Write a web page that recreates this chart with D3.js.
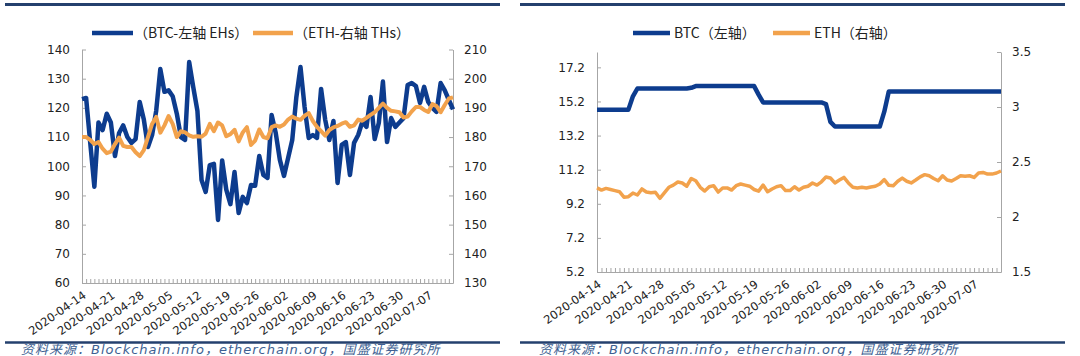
<!DOCTYPE html>
<html><head><meta charset="utf-8">
<script src="https://cdn.jsdelivr.net/npm/d3@7"></script>
<style>body{margin:0;background:#fff} svg{display:block}</style>
</head><body>
<svg id="c" width="1080" height="356"></svg>
<script>
const startDate = new Date(2020,3,14), endDate = new Date(2020,6,14);
const dates = d3.timeDay.range(startDate, endDate); // 2020-04-14 .. 2020-07-13
const tickLabels = ["2020-04-14","2020-04-21","2020-04-28","2020-05-05","2020-05-12","2020-05-19","2020-05-26","2020-06-02","2020-06-09","2020-06-16","2020-06-23","2020-06-30","2020-07-07"];

// Left panel: hash rate
const btcHash = [123,123.4,108,93,115,112.4,118,115,103.5,111.4,
 114,110,108,109.3,122,116,106.6,110.7,119,133.3,
 125.5,126,124,118,110,109,135.7,127,119,95.3,
 91.2,100.4,100.8,81.6,102,92,87,98,84,89.5,
 87.4,93.6,93.3,103.5,97,96,117.6,111.4,102.2,96.7,
 102.8,109,123.7,134,120.3,109.7,110.7,109.7,126.5,115.9,
 109,115.5,94.3,107.3,108.3,97,108,110.7,115.2,113.5,
 123.7,109.3,114.8,129,108.3,116.5,113.5,115,116.5,127.8,
 128.5,127.5,121.7,127.2,122,120,118.6,128.5,126,122.7,
 119.5];
const ethHash = [180,180,179,177.6,178.3,176,174.5,175,177.6,179.8,
 177,176.6,176.6,174.8,173.5,175.5,180,184.5,186.9,181.5,
 184,187.2,184.5,180,182,181.6,180.6,180.1,180.3,180.1,
 181.2,184.5,182,185,184,180.3,181,182.5,178.5,181.6,
 183.4,177.3,178.8,182.6,180,179.6,183.4,184,183.5,184.3,
 186,187,186.3,185.9,187.3,188.2,185.5,183.5,182,180.5,
 182.4,183.3,183.8,184.6,185.1,183.5,184,186,185.6,186.6,
 187.6,188.5,190,191.5,190,189,188.8,188.5,186.7,187,
 188.8,190.3,190.3,189.3,188.6,191.3,190.6,188.5,191,193.2,
 193.6];
const hashLeftTicks = [60,70,80,90,100,110,120,130,140];
const hashRightTicks = [130,140,150,160,170,180,190,200,210];
const hashLegend = ["（BTC-左轴 EHs）","（ETH-右轴 THs）"];

// Right panel: difficulty
const btcDiff = [14.72,14.72,14.72,14.72,14.72,14.72,14.72,14.72,15.5,
 15.96,15.96,15.96,15.96,15.96,15.96,15.96,15.96,15.96,15.96,15.96,15.96,
 16.0,
 16.1,16.1,16.1,16.1,16.1,16.1,16.1,16.1,16.1,16.1,16.1,16.1,16.1,16.1,
 15.6,
 15.14,15.14,15.14,15.14,15.14,15.14,15.14,15.14,15.14,15.14,15.14,15.14,15.14,15.14,
 15.05,14.0,
 13.73,13.73,13.73,13.73,13.73,13.73,13.73,13.73,13.73,13.73,13.73,
 14.6,
 15.78,15.78,15.78,15.78,15.78,15.78,15.78,15.78,15.78,15.78,15.78,15.78,15.78,
 15.78,15.78,15.78,15.78,15.78,15.78,15.78,15.78,15.78,15.78,15.78,15.78,15.78];
const ethDiff = [2.264,2.245,2.26,2.25,2.24,2.23,2.18,2.185,2.218,2.20,
 2.255,2.227,2.22,2.225,2.17,2.22,2.27,2.29,2.318,2.309,
 2.28,2.35,2.33,2.27,2.236,2.275,2.285,2.227,2.264,2.264,
 2.245,2.285,2.30,2.29,2.28,2.25,2.235,2.29,2.23,2.255,
 2.275,2.285,2.24,2.24,2.275,2.245,2.27,2.28,2.309,2.29,
 2.32,2.364,2.355,2.31,2.336,2.36,2.31,2.27,2.264,2.27,
 2.264,2.273,2.28,2.30,2.34,2.288,2.285,2.325,2.354,2.325,
 2.31,2.336,2.365,2.385,2.375,2.35,2.33,2.375,2.336,2.327,
 2.35,2.375,2.37,2.375,2.36,2.40,2.405,2.39,2.39,2.40,
 2.418];
const diffLeftTicks = [5.2,7.2,9.2,11.2,13.2,15.2,17.2];
const diffRightTicks = [1.5,2,2.5,3,3.5];
const diffLegend = ["BTC（左轴）","ETH（右轴）"];

const footer = "资料来源：Blockchain.info，etherchain.org，国盛证券研究所";

const BLUE = "#0d3c8e", ORANGE = "#f2a24c", AXIS = "#a6a6a6", RULE = "#24406e";
const svg = d3.select("#c");
const parse = d3.timeParse("%Y-%m-%d");

function panel(o) {
  const g = svg.append("g");
  // rules
  g.append("line").attr("x1", o.ruleX0).attr("x2", o.ruleX1).attr("y1", 4.5).attr("y2", 4.5)
    .attr("stroke", RULE).attr("stroke-width", 3);
  g.append("line").attr("x1", o.ruleX0).attr("x2", o.ruleX1).attr("y1", 342.5).attr("y2", 342.5)
    .attr("stroke", RULE).attr("stroke-width", 2.5);
  g.append("text").attr("x", o.footX).attr("y", 353.5).attr("font-family", "DejaVu Sans, Noto Sans CJK SC")
    .attr("font-size", 13).attr("font-style", "italic").attr("letter-spacing", 1)
    .attr("fill", "#3d5f92").text(footer);

  const x = d3.scaleTime().domain([dates[0], dates[dates.length-1]]).range([o.x0, o.x1]);
  const yL = d3.scaleLinear().domain(o.yLdom).range([o.y1, o.y0]);
  const yR = d3.scaleLinear().domain(o.yRdom).range([o.y1, o.y0]);

  const fmtL = o.fmtL || (d => d), fmtR = o.fmtR || (d => d);
  const ax = (sel) => {
    sel.selectAll("path.domain").attr("stroke", AXIS);
    sel.selectAll(".tick line").attr("stroke", AXIS);
    sel.selectAll("text").attr("font-family", "DejaVu Sans").attr("font-size", 12).attr("fill", "#222");
  };
  g.append("g").attr("transform", `translate(${o.x0},0)`)
    .call(d3.axisLeft(yL).tickValues(o.ticksL).tickFormat(fmtL).tickSizeInner(-4).tickSizeOuter(0).tickPadding(12)).call(ax);
  g.append("g").attr("transform", `translate(${o.x1},0)`)
    .call(d3.axisRight(yR).tickValues(o.ticksR).tickFormat(fmtR).tickSizeInner(-4).tickSizeOuter(0).tickPadding(11)).call(ax);
  g.append("g").attr("transform", `translate(0,${o.y1})`)
    .call(d3.axisBottom(x).tickValues(dates).tickFormat("").tickSizeInner(-4).tickSizeOuter(0)).call(ax);

  // date labels
  g.append("g").selectAll("text").data(tickLabels).join("text")
    .attr("transform", d => `translate(${x(parse(d))},${o.y1 + 7}) rotate(-35)`)
    .attr("text-anchor", "end").attr("dy", "0.75em")
    .attr("font-family", "DejaVu Sans").attr("font-size", 11.5).attr("fill", "#222").text(d => d);

  const lineL = d3.line().x((d, i) => x(dates[i])).y(d => yL(d));
  const lineR = d3.line().x((d, i) => x(dates[i])).y(d => yR(d));
  const order = o.orangeOnTop ? [["L", o.left, BLUE, o.wL], ["R", o.right, ORANGE, o.wR]]
                              : [["R", o.right, ORANGE, o.wR], ["L", o.left, BLUE, o.wL]];
  order.forEach(([s, data, col, w]) => {
    g.append("path").datum(data).attr("d", s === "L" ? lineL : lineR)
      .attr("fill", "none").attr("stroke", col).attr("stroke-width", w)
      .attr("stroke-linejoin", "round").attr("stroke-linecap", "butt");
  });

  // legend
  o.legend.forEach((lg, i) => {
    const it = o.legPos[i];
    g.append("line").attr("x1", it[0]).attr("x2", it[1]).attr("y1", 33).attr("y2", 33)
      .attr("stroke", i === 0 ? BLUE : ORANGE).attr("stroke-width", 4.5);
    g.append("text").attr("x", it[2]).attr("y", 38).attr("font-family", "Noto Sans CJK SC")
      .attr("font-size", 14).attr("fill", "#222").text(lg);
  });
}

panel({ruleX0: 5, ruleX1: 500, footX: 21,
  x0: 82, x1: 453, y0: 49.5, y1: 283,
  yLdom: [60, 140], yRdom: [130, 210], ticksL: hashLeftTicks, ticksR: hashRightTicks,
  left: btcHash, right: ethHash, wL: 4.5, wR: 4, orangeOnTop: true,
  legend: hashLegend, legPos: [[92, 133, 134], [253, 293, 294]]});

panel({ruleX0: 520, ruleX1: 1065, footX: 539,
  x0: 597, x1: 1001, y0: 52, y1: 272,
  yLdom: [5.2, 18.1], yRdom: [1.5, 3.5], ticksL: diffLeftTicks, ticksR: diffRightTicks,
  fmtL: d3.format(".1f"), fmtR: d => String(d),
  left: btcDiff, right: ethDiff, wL: 4.5, wR: 3.5, orangeOnTop: false,
  legend: diffLegend, legPos: [[633, 670, 674], [773, 810, 814]]});
</script>
</body></html>
